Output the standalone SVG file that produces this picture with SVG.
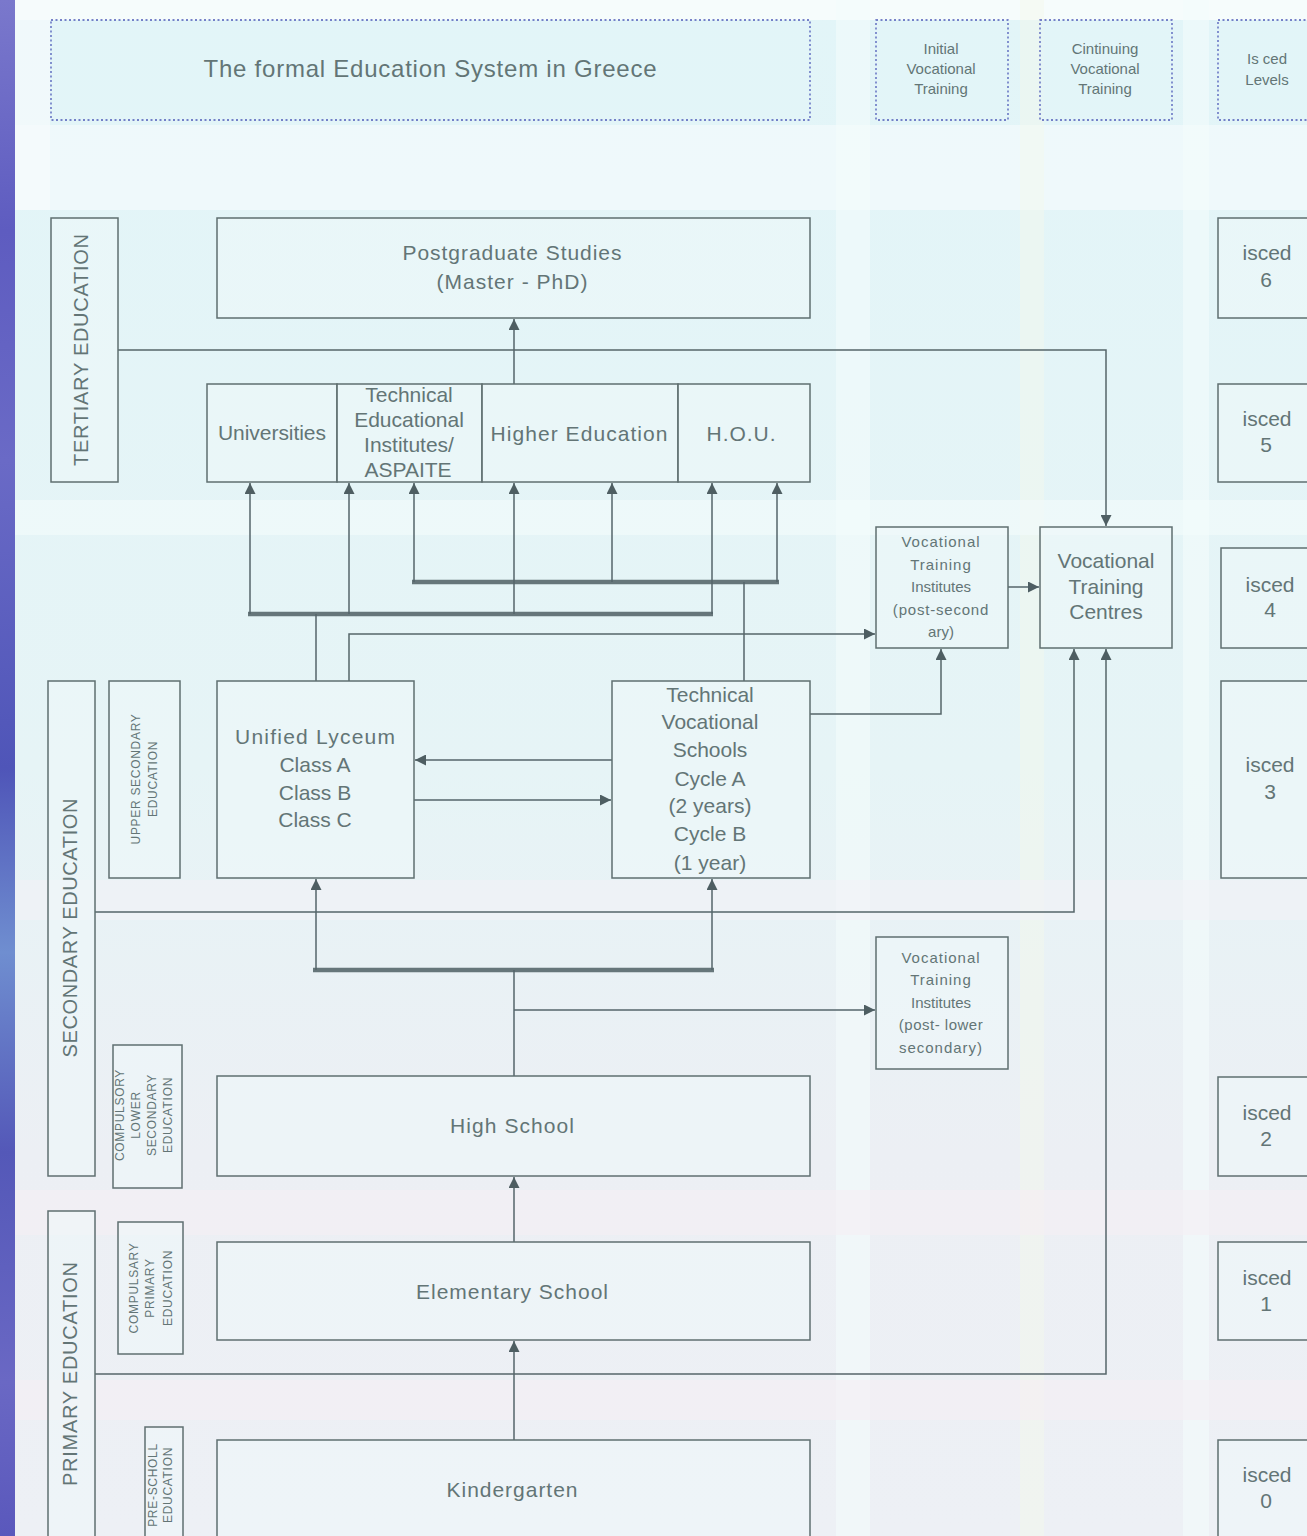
<svg xmlns="http://www.w3.org/2000/svg" width="1307" height="1536" viewBox="0 0 1307 1536">
<style>
.bx{fill:#eef8f9;fill-opacity:0.55;stroke:#5f6f70;stroke-width:1.5}
.hd{fill:#e2f5f8;fill-opacity:0.7;stroke:#4f5ab8;stroke-width:1.3;stroke-dasharray:2 2.5}
.t{font-family:"Liberation Sans",Arial,sans-serif;fill:#637576;text-anchor:middle}
.l{font-size:21px}
.m{font-size:15px}
.s{font-size:12px;letter-spacing:0.7px}
.c{fill:none;stroke:#55656a;stroke-width:1.5}
.bus{fill:none;stroke:#66767a;stroke-width:4.5}
</style>
<defs>
<linearGradient id="bg" x1="0" y1="0" x2="0" y2="1">
<stop offset="0" stop-color="#e2f5f8"/>
<stop offset="0.5" stop-color="#e6f4f6"/>
<stop offset="0.75" stop-color="#eceff4"/>
<stop offset="1" stop-color="#edf0f5"/>
</linearGradient>
<linearGradient id="strip" x1="0" y1="0" x2="0" y2="1">
<stop offset="0" stop-color="#7a78cc"/>
<stop offset="0.15" stop-color="#5e5cc0"/>
<stop offset="0.3" stop-color="#6a6ac6"/>
<stop offset="0.5" stop-color="#4f55b8"/>
<stop offset="0.62" stop-color="#6f8ed0"/>
<stop offset="0.75" stop-color="#5458b8"/>
<stop offset="0.9" stop-color="#6a68c4"/>
<stop offset="1" stop-color="#5a58bc"/>
</linearGradient>
<marker id="ar" viewBox="0 0 10 10" refX="10" refY="5" markerWidth="12" markerHeight="11" markerUnits="userSpaceOnUse" orient="auto">
<path d="M0,0 L10,5 L0,10 z" fill="#4e5e62"/>
</marker>
</defs>
<g id="background">
<rect x="0" y="0" width="1307" height="1536" fill="url(#bg)"/>
<rect x="15" y="0" width="1292" height="20" fill="#f6fcfc"/>
<rect x="15" y="125" width="1292" height="85" fill="#f1fafb" opacity="0.8"/>
<rect x="15" y="0" width="35" height="210" fill="#f7fbfc" opacity="0.7"/>
<rect x="836" y="0" width="34" height="1536" fill="#f4fbfb" opacity="0.6"/>
<rect x="1020" y="0" width="24" height="1536" fill="#f3f8ec" opacity="0.45"/>
<rect x="1183" y="0" width="26" height="1536" fill="#f4fbfb" opacity="0.6"/>
<rect x="15" y="500" width="1292" height="35" fill="#f3fbfb" opacity="0.6"/>
<rect x="15" y="880" width="1292" height="40" fill="#f1f2f7" opacity="0.6"/>
<rect x="15" y="1190" width="1292" height="45" fill="#f5eef3" opacity="0.6"/>
<rect x="15" y="1380" width="1292" height="40" fill="#f5eef3" opacity="0.6"/>
<rect x="0" y="0" width="15" height="1536" fill="url(#strip)"/>
</g>
<g id="header-title">
<rect class="hd" x="51" y="20" width="759" height="100"/>
<text class="t" x="430" y="77" font-size="24" textLength="453" lengthAdjust="spacing">The formal Education System in Greece</text>
</g>
<g id="header-ivt">
<rect class="hd" x="876" y="20" width="132" height="100"/>
<text class="t m" x="941" y="54">Initial</text>
<text class="t m" x="941" y="74">Vocational</text>
<text class="t m" x="941" y="94">Training</text>
</g>
<g id="header-cvt">
<rect class="hd" x="1040" y="20" width="132" height="100"/>
<text class="t m" x="1105" y="54">Cintinuing</text>
<text class="t m" x="1105" y="74">Vocational</text>
<text class="t m" x="1105" y="94">Training</text>
</g>
<g id="header-isced">
<rect class="hd" x="1218" y="20" width="100" height="100"/>
<text class="t m" x="1267" y="64">Is ced</text>
<text class="t m" x="1267" y="85">Levels</text>
</g>
<g id="connectors">
<path class="c" d="M514,384 V319" marker-end="url(#ar)"/>
<path class="c" d="M118,350 H1106 V526" marker-end="url(#ar)"/>
<path class="bus" d="M248,614 H713"/>
<path class="bus" d="M412,582 H779"/>
<path class="c" d="M250,614 V483" marker-end="url(#ar)"/>
<path class="c" d="M349,614 V483" marker-end="url(#ar)"/>
<path class="c" d="M414,582 V483" marker-end="url(#ar)"/>
<path class="c" d="M514,614 V483" marker-end="url(#ar)"/>
<path class="c" d="M612,582 V483" marker-end="url(#ar)"/>
<path class="c" d="M712,614 V483" marker-end="url(#ar)"/>
<path class="c" d="M777,582 V483" marker-end="url(#ar)"/>
<path class="c" d="M316,681 V614"/>
<path class="c" d="M744,681 V582"/>
<path class="c" d="M349,681 V634 H875" marker-end="url(#ar)"/>
<path class="c" d="M1008,587 H1039" marker-end="url(#ar)"/>
<path class="c" d="M810,714 H941 V649" marker-end="url(#ar)"/>
<path class="c" d="M612,760 H415" marker-end="url(#ar)"/>
<path class="c" d="M414,800 H611" marker-end="url(#ar)"/>
<path class="c" d="M95,912 H1074 V649" marker-end="url(#ar)"/>
<path class="bus" d="M313,970 H714"/>
<path class="c" d="M316,970 V879" marker-end="url(#ar)"/>
<path class="c" d="M712,970 V879" marker-end="url(#ar)"/>
<path class="c" d="M514,1076 V970"/>
<path class="c" d="M514,1010 H875" marker-end="url(#ar)"/>
<path class="c" d="M514,1242 V1177" marker-end="url(#ar)"/>
<path class="c" d="M95,1374 H1106 V649" marker-end="url(#ar)"/>
<path class="c" d="M514,1440 V1341" marker-end="url(#ar)"/>
</g>
<g id="tertiary-education">
<rect class="bx" x="51" y="218" width="67" height="264"/>
<text class="t" font-size="20" transform="translate(88,350) rotate(-90)" textLength="232" lengthAdjust="spacing">TERTIARY EDUCATION</text>
</g>
<g id="postgraduate">
<rect class="bx" x="217" y="218" width="593" height="100"/>
<text class="t l" x="512" y="260" textLength="219" lengthAdjust="spacing">Postgraduate Studies</text>
<text class="t l" x="512" y="289" textLength="151" lengthAdjust="spacing">(Master - PhD)</text>
</g>
<g id="universities">
<rect class="bx" x="207" y="384" width="130" height="98"/>
<text class="t l" x="272" y="440" textLength="108" lengthAdjust="spacing">Universities</text>
</g>
<g id="tei">
<rect class="bx" x="337" y="384" width="145" height="98"/>
<text class="t l" x="409" y="402">Technical</text>
<text class="t l" x="409" y="427">Educational</text>
<text class="t l" x="409" y="452">Institutes/</text>
<text class="t l" x="408" y="477">ASPAITE</text>
</g>
<g id="higher-education">
<rect class="bx" x="482" y="384" width="196" height="98"/>
<text class="t l" x="579" y="441" textLength="177" lengthAdjust="spacing">Higher Education</text>
</g>
<g id="hou">
<rect class="bx" x="678" y="384" width="132" height="98"/>
<text class="t l" x="741" y="441" textLength="69" lengthAdjust="spacing">H.O.U.</text>
</g>
<g id="vti-postsecondary">
<rect class="bx" x="876" y="527" width="132" height="121"/>
<text class="t m" x="941" y="547" letter-spacing="1">Vocational</text>
<text class="t m" x="941" y="570" letter-spacing="1">Training</text>
<text class="t m" x="941" y="592">Institutes</text>
<text class="t m" x="941" y="615" letter-spacing="0.8">(post-second</text>
<text class="t m" x="941" y="637">ary)</text>
</g>
<g id="vtc">
<rect class="bx" x="1040" y="527" width="132" height="121"/>
<text class="t l" x="1106" y="568">Vocational</text>
<text class="t l" x="1106" y="594">Training</text>
<text class="t l" x="1106" y="619">Centres</text>
</g>
<g id="secondary-education">
<rect class="bx" x="48" y="681" width="47" height="495"/>
<text class="t" font-size="20" transform="translate(77,928) rotate(-90)" textLength="259" lengthAdjust="spacing">SECONDARY EDUCATION</text>
</g>
<g id="upper-secondary">
<rect class="bx" x="109" y="681" width="71" height="197"/>
<text class="t s" transform="translate(140,779) rotate(-90)">UPPER SECONDARY</text>
<text class="t s" transform="translate(157,779) rotate(-90)">EDUCATION</text>
</g>
<g id="unified-lyceum">
<rect class="bx" x="217" y="681" width="197" height="197"/>
<text class="t l" x="315" y="744" textLength="160" lengthAdjust="spacing">Unified Lyceum</text>
<text class="t l" x="315" y="772">Class A</text>
<text class="t l" x="315" y="800">Class B</text>
<text class="t l" x="315" y="827">Class C</text>
</g>
<g id="technical-vocational-schools">
<rect class="bx" x="612" y="681" width="198" height="197"/>
<text class="t l" x="710" y="702">Technical</text>
<text class="t l" x="710" y="729">Vocational</text>
<text class="t l" x="710" y="757">Schools</text>
<text class="t l" x="710" y="786">Cycle A</text>
<text class="t l" x="710" y="813">(2 years)</text>
<text class="t l" x="710" y="841">Cycle B</text>
<text class="t l" x="710" y="870">(1 year)</text>
</g>
<g id="vti-postlower">
<rect class="bx" x="876" y="937" width="132" height="132"/>
<text class="t m" x="941" y="963" letter-spacing="1">Vocational</text>
<text class="t m" x="941" y="985" letter-spacing="1">Training</text>
<text class="t m" x="941" y="1008">Institutes</text>
<text class="t m" x="941" y="1030" letter-spacing="0.5">(post- lower</text>
<text class="t m" x="941" y="1053" letter-spacing="1">secondary)</text>
</g>
<g id="compulsory-lower-secondary">
<rect class="bx" x="113" y="1045" width="69" height="143"/>
<text class="t s" transform="translate(124,1115) rotate(-90)">COMPULSORY</text>
<text class="t s" transform="translate(140,1115) rotate(-90)">LOWER</text>
<text class="t s" transform="translate(156,1115) rotate(-90)">SECONDARY</text>
<text class="t s" transform="translate(172,1115) rotate(-90)">EDUCATION</text>
</g>
<g id="high-school">
<rect class="bx" x="217" y="1076" width="593" height="100"/>
<text class="t l" x="512" y="1133" textLength="124" lengthAdjust="spacing">High School</text>
</g>
<g id="primary-education">
<rect class="bx" x="48" y="1211" width="47" height="335"/>
<text class="t" font-size="20" transform="translate(77,1374) rotate(-90)" textLength="224" lengthAdjust="spacing">PRIMARY EDUCATION</text>
</g>
<g id="compulsary-primary">
<rect class="bx" x="118" y="1222" width="65" height="132"/>
<text class="t s" transform="translate(138,1288) rotate(-90)">COMPULSARY</text>
<text class="t s" transform="translate(154,1288) rotate(-90)">PRIMARY</text>
<text class="t s" transform="translate(172,1288) rotate(-90)">EDUCATION</text>
</g>
<g id="elementary-school">
<rect class="bx" x="217" y="1242" width="593" height="98"/>
<text class="t l" x="512" y="1299" textLength="192" lengthAdjust="spacing">Elementary School</text>
</g>
<g id="pre-school">
<rect class="bx" x="145" y="1427" width="38" height="119"/>
<text class="t s" transform="translate(157,1485) rotate(-90)">PRE-SCHOLL</text>
<text class="t s" transform="translate(172,1485) rotate(-90)">EDUCATION</text>
</g>
<g id="kindergarten">
<rect class="bx" x="217" y="1440" width="593" height="106"/>
<text class="t l" x="512" y="1497" textLength="131" lengthAdjust="spacing">Kindergarten</text>
</g>
<g id="isced-6"><rect class="bx" x="1218" y="218" width="100" height="100"/><text class="t l" x="1267" y="260">isced</text><text class="t l" x="1266" y="287">6</text></g>
<g id="isced-5"><rect class="bx" x="1218" y="384" width="100" height="98"/><text class="t l" x="1267" y="426">isced</text><text class="t l" x="1266" y="452">5</text></g>
<g id="isced-4"><rect class="bx" x="1221" y="548" width="100" height="100"/><text class="t l" x="1270" y="592">isced</text><text class="t l" x="1270" y="617">4</text></g>
<g id="isced-3"><rect class="bx" x="1221" y="681" width="100" height="197"/><text class="t l" x="1270" y="772">isced</text><text class="t l" x="1270" y="799">3</text></g>
<g id="isced-2"><rect class="bx" x="1218" y="1077" width="100" height="99"/><text class="t l" x="1267" y="1120">isced</text><text class="t l" x="1266" y="1146">2</text></g>
<g id="isced-1"><rect class="bx" x="1218" y="1242" width="100" height="98"/><text class="t l" x="1267" y="1285">isced</text><text class="t l" x="1266" y="1311">1</text></g>
<g id="isced-0"><rect class="bx" x="1218" y="1440" width="100" height="106"/><text class="t l" x="1267" y="1482">isced</text><text class="t l" x="1266" y="1508">0</text></g>
</svg>
